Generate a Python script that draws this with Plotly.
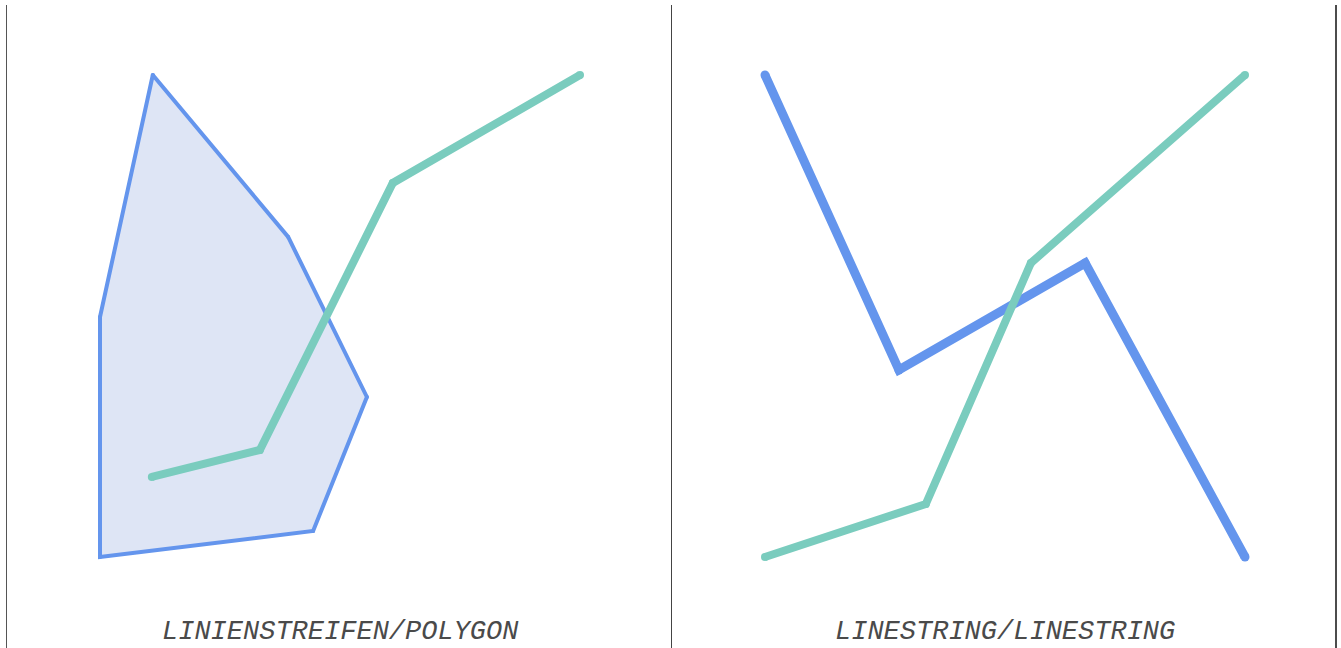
import plotly.graph_objects as go

# Left panel: polygon (blue) and linestring (green)
poly_x = [11.0, 39.2, 55.6, 44.4, 0.0, 0.0, 11.0]
poly_y = [100.0, 66.4, 33.2, 5.4, 0.0, 49.8, 100.0]
left_line_x = [10.8, 33.3, 61.0, 100.0]
left_line_y = [16.6, 22.2, 77.6, 100.0]

# Right panel: two linestrings
right_blue_x = [0.0, 27.9, 66.7, 100.0]
right_blue_y = [100.0, 38.8, 61.0, 0.0]
right_green_x = [0.0, 33.5, 55.4, 100.0]
right_green_y = [0.0, 11.0, 61.0, 100.0]

labels = ["LINIENSTREIFEN/POLYGON", "LINESTRING/LINESTRING"]

BLUE = "rgb(100,149,237)"
GREEN = "rgb(122,204,190)"
FILL = "rgb(222,229,245)"

W, H = 1341, 648
fig = go.Figure()

fig.add_trace(go.Scatter(x=poly_x, y=poly_y, mode="lines", fill="toself",
                         fillcolor=FILL, line=dict(color=BLUE, width=4),
                         xaxis="x", yaxis="y", hoverinfo="skip"))
fig.add_trace(go.Scatter(x=poly_x, y=poly_y, mode="markers",
                         marker=dict(color=BLUE, size=4, line=dict(width=0)),
                         xaxis="x", yaxis="y", hoverinfo="skip"))
fig.add_trace(go.Scatter(x=left_line_x, y=left_line_y, mode="lines+markers",
                         line=dict(color=GREEN, width=8),
                         marker=dict(color=GREEN, size=8, line=dict(width=0)),
                         xaxis="x", yaxis="y", hoverinfo="skip"))

fig.add_trace(go.Scatter(x=right_blue_x, y=right_blue_y, mode="lines+markers",
                         line=dict(color=BLUE, width=9),
                         marker=dict(color=BLUE, size=9, line=dict(width=0)),
                         xaxis="x2", yaxis="y2", hoverinfo="skip"))
fig.add_trace(go.Scatter(x=right_green_x, y=right_green_y, mode="lines+markers",
                         line=dict(color=GREEN, width=8),
                         marker=dict(color=GREEN, size=8, line=dict(width=0)),
                         xaxis="x2", yaxis="y2", hoverinfo="skip"))

ax = dict(visible=False, showgrid=False, zeroline=False, fixedrange=True)
fig.update_layout(
    width=W, height=H,
    margin=dict(l=0, r=0, t=0, b=0),
    paper_bgcolor="white", plot_bgcolor="white",
    showlegend=False,
    xaxis=dict(domain=[7 / W, 671 / W], range=[-19.375, 118.96], **ax),
    yaxis=dict(domain=[0, 1], range=[-18.88, 115.56], **ax),
    xaxis2=dict(domain=[671 / W, 1336 / W], range=[-19.58, 118.96], **ax),
    yaxis2=dict(domain=[0, 1], range=[-18.88, 115.56], anchor="x2", **ax),
)

for xp, col, lw in [(6.5, "#555555", 1), (671.5, "#444444", 1), (1336, "#111111", 1.5)]:
    fig.add_shape(type="line", xref="paper", yref="paper", layer="above",
                  x0=xp / W, x1=xp / W, y0=0, y1=1 - 5 / H,
                  line=dict(color=col, width=lw))

for lab, cx in zip(labels, [340, 1005]):
    fig.add_annotation(text="<i>" + lab + "</i>", xref="paper", yref="paper",
                       x=cx / W, y=(648 - 632) / H, xanchor="center", yanchor="middle",
                       showarrow=False,
                       font=dict(family="Liberation Mono", size=27, color="#4a4a4a"))

fig.write_html("out.html",
               config={"displayModeBar": False},
               post_script=("document.body.style.margin='0';"
                            "document.body.style.padding='0';"
                            "document.body.style.overflow='hidden';"
                            "document.documentElement.style.overflow='hidden';"))
